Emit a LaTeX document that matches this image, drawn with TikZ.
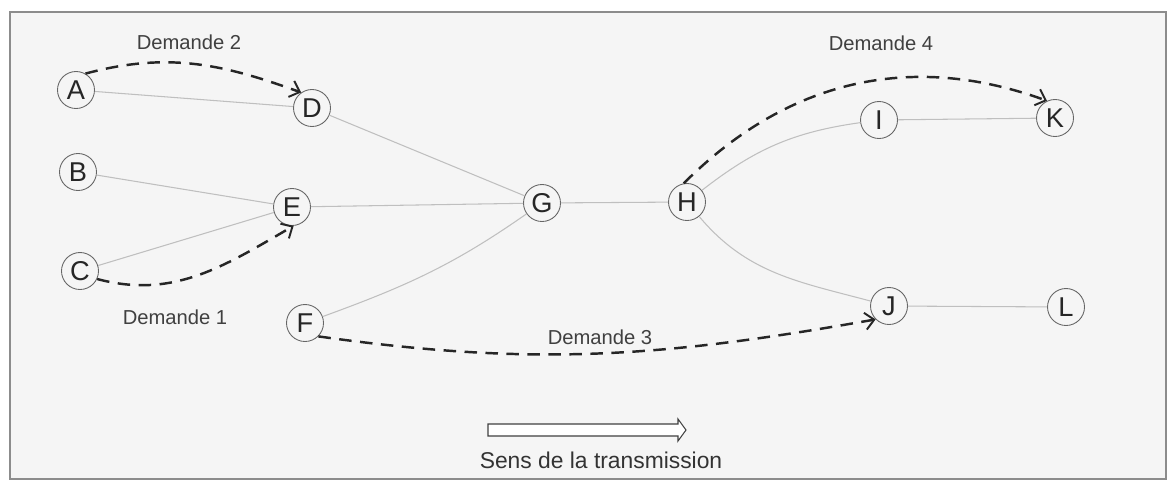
\documentclass[tikz,border=0pt]{standalone}
\usepackage{fontspec}
\setmainfont{Liberation Sans}
\usetikzlibrary{arrows.meta}
\begin{document}
\begin{tikzpicture}[x=0.02cm,y=-0.02cm,
  nd/.style={circle,draw=black!60,line width=0.5pt,fill=black!4,minimum size=0.74cm,inner sep=0pt,
    text=black!85,font=\fontsize{15.5}{17}\selectfont},
  link/.style={draw=black!25,line width=0.6pt},
  dem/.style={draw=black!85,line width=1.4pt,dash pattern=on 0.25cm off 0.17cm,
    -{Straight Barb[length=1.8mm,width=3.4mm,line width=1.1pt]}},
  lab/.style={text=black!75,font=\fontsize{11.5}{13}\selectfont},
  frame/.style={fill=black!4,draw=black!45,line width=1pt},
  hollow/.style={draw=black!75,fill=white,line width=0.6pt}
]
\useasboundingbox (0,0) rectangle (1172,487);
\fill[white] (0,0) rectangle (1172,487);
\draw[frame] (10,12) rectangle (1166,479);

\node[nd] (A) at (76,90) {A};
\node[nd] (B) at (78,172) {B};
\node[nd] (C) at (80,271) {C};
\node[nd] (D) at (312,108) {D};
\node[nd] (E) at (292,207) {E};
\node[nd] (F) at (305,323) {F};
\node[nd] (G) at (542,203) {G};
\node[nd] (H) at (687,202) {H};
\node[nd] (I) at (879,120) {I};
\node[nd] (K) at (1055,118) {K};
\node[nd] (J) at (889,306) {J};
\node[nd] (L) at (1066,307) {L};

\draw[link] (A) -- (D);
\draw[link] (D) -- (G);
\draw[link] (B) -- (E);
\draw[link] (C) -- (E);
\draw[link] (E) -- (G);
\draw[link] (F) to[out=20,in=215] (G);
\draw[link] (G) -- (H);
\draw[link] (H) to[out=38,in=188] (I);
\draw[link] (H) to[out=-50,in=165] (J);
\draw[link] (I) -- (K);
\draw[link] (J) -- (L);

\draw[dem] (A.60) to[out=15,in=160] (D.125);
\draw[dem] (C.-25) to[out=-15,in=-150] (E.-85);
\draw[dem] (F.-45) to[out=-8,in=-170] (J.-135);
\draw[dem] (H.100) to[out=45,in=160] (K.115);

\node[lab] (d2) at (189,42) {Demande 2};
\node[lab] (d1) at (175,317) {Demande 1};
\node[lab] (d3) at (600,337) {Demande 3};
\node[lab] (d4) at (881,43) {Demande 4};

\coordinate (s0) at (488,430);
\coordinate (s1) at (686,430);
\draw[hollow] (488,424) -- (678,424) -- (678,419) -- (s1) -- (678,441) -- (678,436) -- (488,436) -- cycle;
\node[text=black!80,font=\fontsize{13}{15}\selectfont] (sens) at (601,460) {Sens de la transmission};
\end{tikzpicture}
\end{document}
